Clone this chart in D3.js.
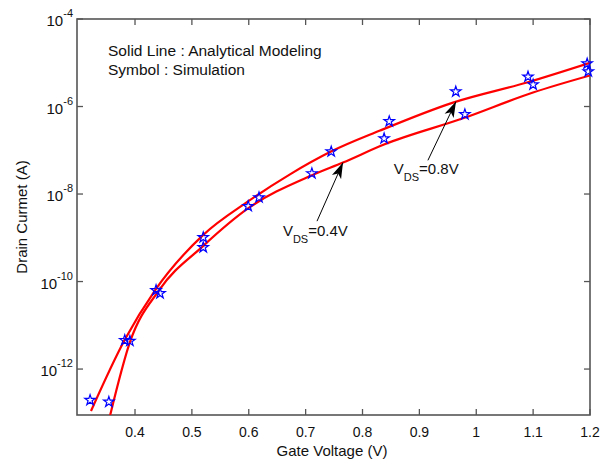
<!DOCTYPE html>
<html>
<head>
<meta charset="utf-8">
<script src="https://cdn.jsdelivr.net/npm/d3@7"></script>
<style>
  body { margin: 0; background: #fff; }
  text { font-family: "Liberation Sans", Arial, sans-serif; fill: #111; }
</style>
</head>
<body>
<div id="chart"></div>
<script>
// Axis ticks
var xTicks = [0.4, 0.5, 0.6, 0.7, 0.8, 0.9, 1, 1.1, 1.2];
var yTickExps = [-12, -10, -8, -6, -4];

// Analytical model (solid lines)
var modelVg08 = [0.3226, 0.3824, 0.4352, 0.5196, 0.5987, 0.6725, 0.7446, 0.8308, 0.9591, 1.0892, 1.2];
var modelId08 = [1.10e-13, 4.79e-12, 6.31e-11, 1.15e-9, 6.76e-9, 2.82e-8, 9.33e-8, 2.82e-7, 1.23e-6, 3.55e-6, 1.0e-5];
var modelVg04 = [0.356, 0.3912, 0.4422, 0.5196, 0.5987, 0.7112, 0.7657, 0.8378, 0.9767, 1.0998, 1.2];
var modelId04 = [8.51e-14, 4.17e-12, 6.31e-11, 6.46e-10, 4.68e-9, 2.69e-8, 5.25e-8, 1.35e-7, 5.37e-7, 2.09e-6, 5.13e-6];

// Simulation (star symbols)
var simVg08 = [0.321, 0.382, 0.437, 0.520, 0.618, 0.745, 0.847, 0.964, 1.091, 1.195];
var simId08 = [1.95e-13, 4.57e-12, 6.31e-11, 1.02e-9, 8.32e-9, 9.33e-8, 4.57e-7, 2.19e-6, 4.79e-6, 9.55e-6];
var simVg04 = [0.354, 0.391, 0.444, 0.520, 0.599, 0.711, 0.838, 0.980, 1.100, 1.197];
var simId04 = [1.78e-13, 4.37e-12, 5.37e-11, 6.03e-10, 5.25e-9, 2.95e-8, 1.86e-7, 6.61e-7, 3.16e-6, 6.31e-6];

function drawChart() {
    var width = 605, height = 462,
        margin = {top: 19, right: 15, bottom: 47, left: 77};
    var innerWidth = width - margin.left - margin.right,
        innerHeight = height - margin.top - margin.bottom;

    var svg = d3.select('#chart').append('svg')
        .attr('width', width)
        .attr('height', height);

    var g = svg.append('g')
        .attr('transform', 'translate(' + margin.left + ',' + margin.top + ')');

    var x = d3.scaleLinear().domain([0.298, 1.2]).range([0, innerWidth]);
    var y = d3.scaleLog().domain([Math.pow(10, -13.05), 1e-4]).range([innerHeight, 0]);

    g.append('clipPath').attr('id', 'clip')
        .append('rect').attr('width', innerWidth).attr('height', innerHeight);

    // Ticks (inward, all four sides)
    var tickLen = 6;
    var axisColor = '#555';
    xTicks.forEach(function(t) {
        g.append('line').attr('x1', x(t)).attr('x2', x(t))
            .attr('y1', innerHeight).attr('y2', innerHeight - tickLen)
            .attr('stroke', axisColor).attr('stroke-width', 1.3);
        g.append('line').attr('x1', x(t)).attr('x2', x(t))
            .attr('y1', 0).attr('y2', tickLen)
            .attr('stroke', axisColor).attr('stroke-width', 1.3);
        g.append('text').attr('x', x(t)).attr('y', innerHeight + 22)
            .attr('text-anchor', 'middle').attr('font-size', 14)
            .text(d3.format('~g')(t));
    });
    yTickExps.forEach(function(e) {
        var v = Math.pow(10, e);
        g.append('line').attr('x1', 0).attr('x2', tickLen)
            .attr('y1', y(v)).attr('y2', y(v))
            .attr('stroke', axisColor).attr('stroke-width', 1.3);
        g.append('line').attr('x1', innerWidth).attr('x2', innerWidth - tickLen)
            .attr('y1', y(v)).attr('y2', y(v))
            .attr('stroke', axisColor).attr('stroke-width', 1.3);
        var lbl = g.append('text').attr('x', -4).attr('y', y(v) + 7)
            .attr('text-anchor', 'end').attr('font-size', 15);
        lbl.append('tspan').text('10');
        lbl.append('tspan').attr('dy', -9).attr('font-size', 11).text(String(e));
    });

    // Box
    g.append('rect').attr('width', innerWidth).attr('height', innerHeight)
        .attr('fill', 'none').attr('stroke', axisColor).attr('stroke-width', 1.6);

    // Model lines
    var line = d3.line()
        .x(function(d) { return x(d[0]); })
        .y(function(d) { return y(d[1]); })
        .curve(d3.curveMonotoneX);

    var lines = g.append('g').attr('clip-path', 'url(#clip)');
    [[modelVg08, modelId08], [modelVg04, modelId04]].forEach(function(s) {
        lines.append('path')
            .datum(d3.zip(s[0], s[1]))
            .attr('d', line)
            .attr('fill', 'none')
            .attr('stroke', '#ff0000')
            .attr('stroke-width', 2.2);
    });

    // Simulation stars
    var star = d3.symbol().type(d3.symbolStar).size(34);
    var simPts = d3.zip(simVg08, simId08).concat(d3.zip(simVg04, simId04));
    g.selectAll('.sim')
        .data(simPts)
        .enter().append('path')
        .attr('class', 'sim')
        .attr('transform', function(d) { return 'translate(' + x(d[0]) + ',' + y(d[1]) + ')'; })
        .attr('d', star)
        .attr('fill', 'none')
        .attr('stroke', '#0000ff')
        .attr('stroke-width', 1.2);

    // Legend text
    g.append('text').attr('x', 31).attr('y', 37).attr('font-size', 15.5)
        .text('Solid Line : Analytical Modeling');
    g.append('text').attr('x', 31).attr('y', 56).attr('font-size', 15.5)
        .text('Symbol : Simulation');

    // Arrow annotations
    svg.append('defs').append('marker')
        .attr('id', 'head')
        .attr('viewBox', '-16 -6 17 12')
        .attr('refX', 0).attr('refY', 0)
        .attr('markerWidth', 17).attr('markerHeight', 12)
        .attr('markerUnits', 'userSpaceOnUse')
        .attr('orient', 'auto')
        .append('path')
        .attr('d', 'M0,0 L-16,-5 L-12,0 L-16,5 Z')
        .attr('fill', '#000');

    var notes = [
        {tail: [0.72, Math.pow(10, -8.62)], tip: [0.7657, 5.25e-8], at: [0.660, Math.pow(10, -8.97)], v: '0.4V'},
        {tail: [0.915, Math.pow(10, -7.23)], tip: [0.9644, Math.pow(10, -5.886)], at: [0.855, Math.pow(10, -7.55)], v: '0.8V'}
    ];
    notes.forEach(function(n) {
        g.append('line')
            .attr('x1', x(n.tail[0])).attr('y1', y(n.tail[1]))
            .attr('x2', x(n.tip[0])).attr('y2', y(n.tip[1]))
            .attr('stroke', '#000').attr('stroke-width', 1)
            .attr('marker-end', 'url(#head)');
        var t = g.append('text').attr('x', x(n.at[0])).attr('y', y(n.at[1]))
            .attr('font-size', 15);
        t.append('tspan').text('V');
        t.append('tspan').attr('dy', 7).attr('font-size', 11).text('DS');
        t.append('tspan').attr('dy', -7).text('=' + n.v);
    });

    // Axis labels
    svg.append('text')
        .attr('x', 332).attr('y', 456)
        .attr('text-anchor', 'middle').attr('font-size', 15)
        .text('Gate Voltage (V)');
    svg.append('text')
        .attr('transform', 'translate(27,' + (margin.top + innerHeight / 2) + ') rotate(-90)')
        .attr('text-anchor', 'middle').attr('font-size', 15)
        .text('Drain Curmet (A)');
}

drawChart();
</script>
</body>
</html>
